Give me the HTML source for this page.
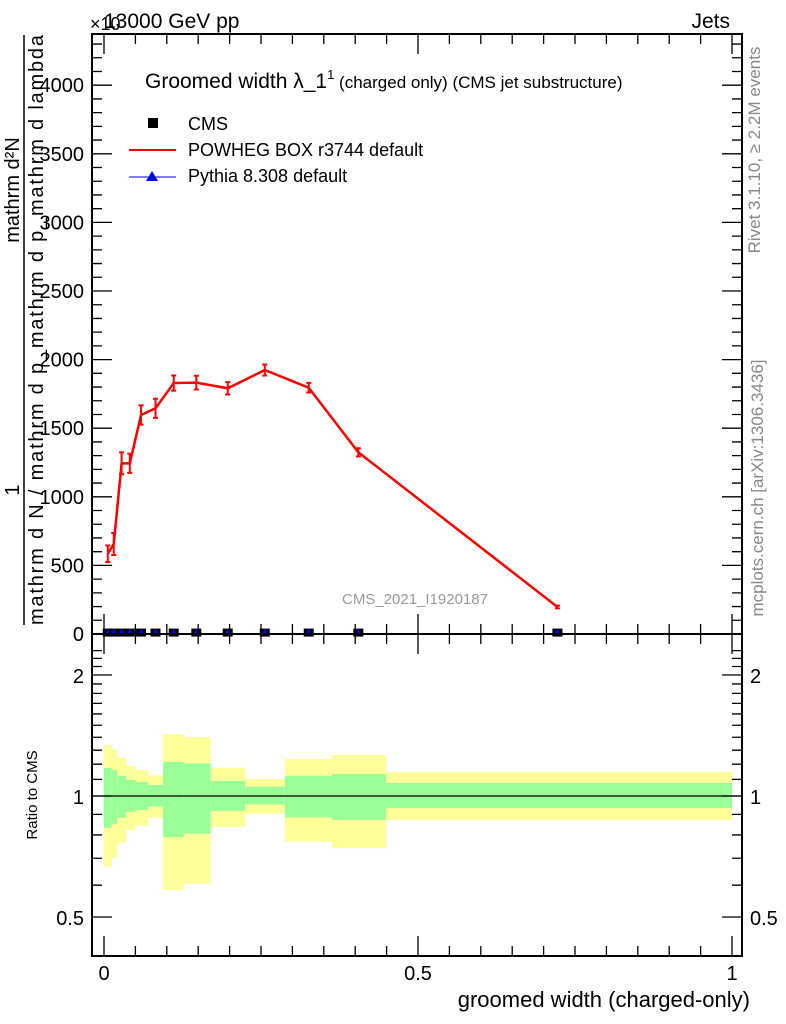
<!DOCTYPE html>
<html><head><meta charset="utf-8"><style>
body{margin:0;background:#fff}
svg{display:block;font-family:"Liberation Sans",sans-serif}
</style></head><body>
<svg id="c" width="786" height="1024" viewBox="0 0 786 1024" xmlns="http://www.w3.org/2000/svg">
<g id="ratio-bands"></g>
<g id="main"></g>
<g id="axes"></g>
<text x="104" y="28" font-size="21">13000 GeV pp</text>
<text x="90" y="30" font-size="18">×10</text>
<text x="730" y="28" font-size="21" text-anchor="end">Jets</text>
<text x="145" y="88" font-size="21">Groomed width λ_1<tspan font-size="13" dy="-9">1</tspan><tspan font-size="17" dy="9"> (charged only) (CMS jet substructure)</tspan></text>
<rect x="148" y="118" width="10" height="10" fill="#000"/>
<text x="188" y="130" font-size="18">CMS</text>
<line x1="129" y1="150" x2="176" y2="150" stroke="#f00" stroke-width="2"/>
<text x="188" y="156" font-size="18">POWHEG BOX r3744 default</text>
<line x1="129" y1="177" x2="176" y2="177" stroke="#00f" stroke-width="1"/>
<polygon points="152,171 146,181 158,181" fill="#00f"/>
<text x="188" y="182" font-size="18">Pythia 8.308 default</text>
<text x="415" y="604" font-size="15" fill="#999" text-anchor="middle">CMS_2021_I1920187</text>
<text transform="translate(760,150) rotate(-90)" font-size="17" fill="#888" text-anchor="middle">Rivet 3.1.10, ≥ 2.2M events</text>
<text transform="translate(763,488) rotate(-90)" font-size="17" fill="#888" text-anchor="middle">mcplots.cern.ch [arXiv:1306.3436]</text>
<text transform="translate(19,190) rotate(-90)" font-size="20" text-anchor="middle">mathrm d²N</text>
<text transform="translate(19,490) rotate(-90)" font-size="20" text-anchor="middle">1</text>
<line x1="24" y1="35" x2="24" y2="625" stroke="#000" stroke-width="1.5"/>
<text transform="translate(43,625) rotate(-90)" font-size="20" textLength="590">mathrm d N / mathrm d p_mathrm d p_mathrm d lambda</text>
<text transform="translate(37,795) rotate(-90)" font-size="15" text-anchor="middle">Ratio to CMS</text>
<text x="750" y="1007" font-size="22" text-anchor="end">groomed width (charged-only)</text>
</svg>
<script>
const edges=[0,0.0123,0.0212,0.035,0.05,0.07,0.094,0.127,0.17,0.225,0.288,0.363,0.449,1.0];
const mids=[0.006,0.0155,0.028,0.041,0.059,0.082,0.111,0.147,0.197,0.256,0.326,0.405,0.722];
const powheg=[585,656,1244,1244,1596,1645,1829,1832,1791,1924,1795,1324,197];
const powhegErr=[60,80,80,70,70,70,55,50,45,40,35,30,10];
const cms=[3,3,3,3,3,3,3,3,3,3,3,3,3];
const yelHi=[1.339,1.307,1.245,1.188,1.161,1.126,1.426,1.402,1.176,1.102,1.236,1.265,1.147];
const yelLo=[0.667,0.704,0.765,0.823,0.844,0.883,0.584,0.605,0.837,0.904,0.770,0.742,0.872];
const grnHi=[1.174,1.161,1.123,1.096,1.084,1.065,1.215,1.206,1.090,1.055,1.123,1.134,1.077];
const grnLo=[0.834,0.852,0.883,0.914,0.923,0.941,0.790,0.806,0.918,0.953,0.885,0.872,0.934];
const yTicks=[0,500,1000,1500,2000,2500,3000,3500,4000];
const rTicks=[0.5,1,2];
const xTicks=[0,0.5,1];
const NS="http://www.w3.org/2000/svg";
const L=92,R=742,T=34,MB=634,RB=956;
const X=v=>104+628*v;
const Y=v=>634-v*68.6/500;
const RY=r=>796-121*Math.log2(r);
function mk(tag,attrs,parent){const e=document.createElementNS(NS,tag);for(const k in attrs)e.setAttribute(k,attrs[k]);parent.appendChild(e);return e;}
const rb=document.getElementById('ratio-bands'),mg=document.getElementById('main'),ax=document.getElementById('axes');
for(let i=0;i<mids.length;i++){
  const x1=X(edges[i]),x2=X(edges[i+1]);
  const y=mk('rect',{x:x1,y:RY(yelHi[i]),width:x2-x1,height:RY(yelLo[i])-RY(yelHi[i]),fill:'#ffff99'},rb);
  
  
  const g=mk('rect',{x:x1,y:RY(grnHi[i]),width:x2-x1,height:RY(grnLo[i])-RY(grnHi[i]),fill:'#99ff99'},rb);
  
  
}
const one=mk('line',{x1:L,x2:R,y1:RY(1),y2:RY(1),stroke:'#000','stroke-width':1.2},rb);


const pl=mk('polyline',{points:mids.map((m,i)=>X(m)+','+Y(powheg[i])).join(' '),fill:'none',stroke:'#f00','stroke-width':2.5},mg);


for(let i=0;i<mids.length;i++){
  const x=X(mids[i]),y1=Y(powheg[i]+powhegErr[i]),y2=Y(powheg[i]-powhegErr[i]);
  const e=mk('path',{d:`M${x},${y1}V${y2}M${x-2.5},${y1}H${x+2.5}M${x-2.5},${y2}H${x+2.5}`,stroke:'#f00','stroke-width':2,fill:'none'},mg);
  
  
  const s=mk('rect',{x:x-5,y:Y(cms[i])-5,width:10,height:8,fill:'#000'},mg);
  
  
  const t=mk('polygon',{points:`${x},${Y(cms[i])-5} ${x-2.5},${Y(cms[i])} ${x+2.5},${Y(cms[i])}`,fill:'#00f'},mg);
  
  
}
for(const [t,b,n] of [[T,MB,'main-frame'],[MB,RB,'ratio-frame']]){
  const f=mk('rect',{x:L,y:t,width:R-L,height:b-t,fill:'none',stroke:'#000','stroke-width':2},ax);
  
  
}
for(let v=0;v<=4300;v+=100){const y=Y(v);if(y<T)break;const big=v%500===0;const len=big?20:10;
  const t=mk('path',{d:`M${L},${y}h${len}M${R},${y}h${-len}`,stroke:'#000','stroke-width':1.3},ax);
  
  }
yTicks.forEach(v=>{const t=mk('text',{x:L-8,y:Y(v)+7,'font-size':20,'text-anchor':'end'},ax);t.textContent=v;
  
  });
[0.5,0.6,0.7,0.8,0.9,1,1.1,1.2,1.3,1.4,1.5,1.6,1.7,1.8,1.9,2,2.1,2.2,2.3].forEach(v=>{const y=RY(v);if(y<MB||y>RB)return;const big=rTicks.includes(v);const len=big?20:10;
  const t=mk('path',{d:`M${L},${y}h${len}M${R},${y}h${-len}`,stroke:'#000','stroke-width':1.3},ax);
  
  });
rTicks.forEach(v=>{for(const [x,a] of [[L-8,'end'],[R+8,'start']]){const t=mk('text',{x:x,y:RY(v)+8,'font-size':20,'text-anchor':a},ax);t.textContent=v;
  
  }});
for(let v=0;v<=1.0001;v+=0.05){const x=X(v);const big=Math.round(v*100)%50===0;const len=big?20:10;
  for(const [t0,b0] of [[T,MB],[MB,RB]]){const t=mk('path',{d:`M${x},${b0}v${-len}M${x},${t0}v${len}`,stroke:'#000','stroke-width':1.3},ax);
  
  }}
xTicks.forEach(v=>{const t=mk('text',{x:X(v),y:980,'font-size':20,'text-anchor':'middle'},ax);t.textContent=v;
  
  });
</script>
</body></html>
